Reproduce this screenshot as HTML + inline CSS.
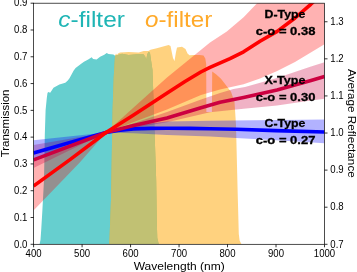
<!DOCTYPE html>
<html><head><meta charset="utf-8">
<style>
html,body{margin:0;padding:0;background:#fff;}
svg{display:block;will-change:transform;}
text{font-family:"Liberation Sans",sans-serif;}
</style></head><body>
<svg width="357" height="272" viewBox="0 0 357 272">
<rect x="0" y="0" width="357" height="272" fill="#ffffff"/>
<defs><clipPath id="ax"><rect x="33.6" y="3.2" width="290.9" height="241.10000000000002"/></clipPath>
<clipPath id="oc"><path d="M109.3,244.3 L111,200 L112.6,110 L113.7,78 L115,56 L116,53.5 L117,55 L118,53.5 L120,52.6 L128.6,52 L138.7,52.6 L143.7,51 L148.4,51 L150.5,49.7 L156.8,48.2 L168.6,45.1 L170.5,46 L173,58 L174.5,61 L176,52 L177,47.6 L182,46.8 L185.5,49 L187.5,53.5 L189.5,55.2 L193.8,55 L199.6,54.9 L203.5,55.6 L205.3,58.5 L206.2,64 L206.4,112 L211.9,112 L212.2,71.6 L216,74.2 L221,78.8 L231,91.8 L234.5,101.8 L236,125 L237.6,190 L238.8,234 L239.6,240.5 L241.5,244.3 Z"/></clipPath></defs>
<g clip-path="url(#ax)">
<path fill="#66cfcf" d="M33.5,244.3 L39.6,243.9 L40.5,240 L41.2,230 L42.4,210 L44,180 L44.8,135 L45.6,110 L46.8,98 L47.5,93 L48.2,92 L50.2,92.8 L53.5,87.7 L59.4,84.4 L65.3,82.7 L67.8,80.4 L69.5,78.2 L73.7,70.4 L75.6,68 L81.2,63.8 L84,61.7 L88.2,59.6 L91.7,57.2 L93.1,58.9 L96.6,59.6 L100.1,56.8 L104.3,54.7 L106.7,52.9 L108.5,54 L113.4,54.4 L115.1,55.7 L122,53.8 L128.6,55 L137,54.3 L143.5,54.3 L145.2,56.5 L146.2,59.8 L147.3,54 L148.8,51.8 L150,53 L151,60 L152.5,70 L156.2,180 L156.9,225 L157.3,238 L158.8,244.3 Z"/>
<path fill="#ffa500" fill-opacity="0.5" d="M109.3,244.3 L111,200 L112.6,110 L113.7,78 L115,56 L116,53.5 L117,55 L118,53.5 L120,52.6 L128.6,52 L138.7,52.6 L143.7,51 L148.4,51 L150.5,49.7 L156.8,48.2 L168.6,45.1 L170.5,46 L173,58 L174.5,61 L176,52 L177,47.6 L182,46.8 L185.5,49 L187.5,53.5 L189.5,55.2 L193.8,55 L199.6,54.9 L203.5,55.6 L205.3,58.5 L206.2,64 L206.4,112 L211.9,112 L212.2,71.6 L216,74.2 L221,78.8 L231,91.8 L234.5,101.8 L236,125 L237.6,190 L238.8,234 L239.6,240.5 L241.5,244.3 Z"/>
<path fill="#c1c173" clip-path="url(#oc)" d="M33.5,244.3 L39.6,243.9 L40.5,240 L41.2,230 L42.4,210 L44,180 L44.8,135 L45.6,110 L46.8,98 L47.5,93 L48.2,92 L50.2,92.8 L53.5,87.7 L59.4,84.4 L65.3,82.7 L67.8,80.4 L69.5,78.2 L73.7,70.4 L75.6,68 L81.2,63.8 L84,61.7 L88.2,59.6 L91.7,57.2 L93.1,58.9 L96.6,59.6 L100.1,56.8 L104.3,54.7 L106.7,52.9 L108.5,54 L113.4,54.4 L115.1,55.7 L122,53.8 L128.6,55 L137,54.3 L143.5,54.3 L145.2,56.5 L146.2,59.8 L147.3,54 L148.8,51.8 L150,53 L151,60 L152.5,70 L156.2,180 L156.9,225 L157.3,238 L158.8,244.3 Z"/>
<path fill="#ff0000" fill-opacity="0.3" d="M33.5,161 L106,132.5 L133.6,107.6 L167,77.4 L200.8,50 L210,42.6 L226.8,31.6 L243.6,17.3 L257.3,3 L324.5,3 L324.5,44.2 L310.8,52.5 L295,62 L277.2,71 L260,78.5 L243.6,84.3 L220,89.5 L201,95 L167,109.5 L106,132.5 L80,162.3 L33.5,210.5 Z"/>
<path fill="#cc0040" fill-opacity="0.3" d="M33.5,145 L106,132.5 L167,112 L201,99.5 L220,93 L233.5,89 L245,87 L277,78 L311,66.5 L324.5,62.3 L324.5,98.7 L311,100.4 L277,105.5 L243.6,108.8 L210,112.2 L167,122.3 L106,132.5 L33.5,168 Z"/>
<path fill="#0000ff" fill-opacity="0.3" d="M33.5,140.3 L106,132.5 L133.6,125.6 L167,121.5 L210,120.8 L324.5,119.5 L324.5,143.2 L276,140.2 L236,138 L210,136.5 L167,135 L133.6,133.2 L106,132.5 L33.5,161.5 Z"/>
<path fill="none" stroke="#0000ff" stroke-width="3.6" stroke-linejoin="round" d="M33.5,152.9 L70,142.5 L106,132.5 L118,130.4 L133.6,128.9 L150,128.4 L167,128.2 L190,128.4 L210,128.8 L236,129.3 L276,130.6 L324.5,132"/>
<path fill="none" stroke="#cc0040" stroke-width="3.6" stroke-linejoin="round" d="M33.5,159.9 L106,132.5 L133.6,125.6 L167,118 L201,107.8 L220,102.3 L243.6,97.5 L277,90 L311,80.5 L324.5,76.6"/>
<path fill="none" stroke="#ff0000" stroke-width="3.6" stroke-linejoin="round" d="M33.5,186 L70,159.6 L106,132.5 L133.6,115 L167.2,93.1 L185,81.5 L200.8,72 L210,67.4 L230,58.6 L243.6,51.8 L260,41.2 L277.2,31.4 L295,18 L310.8,4.3 L317,-1.5"/>
</g>
<rect x="33.6" y="3.2" width="290.9" height="241.10000000000002" fill="none" stroke="#000" stroke-width="0.7"/>
<path stroke="#000" stroke-width="0.8" fill="none" d="M30.6,244.30H33.6 M30.6,217.51H33.6 M30.6,190.72H33.6 M30.6,163.93H33.6 M30.6,137.14H33.6 M30.6,110.36H33.6 M30.6,83.57H33.6 M30.6,56.78H33.6 M30.6,29.99H33.6 M30.6,3.20H33.6 M33.60,244.3V247.3 M82.08,244.3V247.3 M130.57,244.3V247.3 M179.05,244.3V247.3 M227.53,244.3V247.3 M276.02,244.3V247.3 M324.50,244.3V247.3 M324.5,244.30H327.5 M324.5,207.21H327.5 M324.5,170.12H327.5 M324.5,133.02H327.5 M324.5,95.93H327.5 M324.5,58.84H327.5 M324.5,21.75H327.5"/>
<g font-size="10" fill="#000" lengthAdjust="spacingAndGlyphs">
<g text-anchor="end"><text x="27.4" y="247.55" textLength="13.34" lengthAdjust="spacingAndGlyphs">0.0</text><text x="27.4" y="220.76" textLength="13.34" lengthAdjust="spacingAndGlyphs">0.1</text><text x="27.4" y="193.97" textLength="13.34" lengthAdjust="spacingAndGlyphs">0.2</text><text x="27.4" y="167.18" textLength="13.34" lengthAdjust="spacingAndGlyphs">0.3</text><text x="27.4" y="140.39" textLength="13.34" lengthAdjust="spacingAndGlyphs">0.4</text><text x="27.4" y="113.61" textLength="13.34" lengthAdjust="spacingAndGlyphs">0.5</text><text x="27.4" y="86.82" textLength="13.34" lengthAdjust="spacingAndGlyphs">0.6</text><text x="27.4" y="60.03" textLength="13.34" lengthAdjust="spacingAndGlyphs">0.7</text><text x="27.4" y="33.24" textLength="13.34" lengthAdjust="spacingAndGlyphs">0.8</text><text x="27.4" y="6.45" textLength="13.34" lengthAdjust="spacingAndGlyphs">0.9</text></g>
<g text-anchor="middle"><text x="33.60" y="257.3" textLength="16.0" lengthAdjust="spacingAndGlyphs">400</text><text x="82.08" y="257.3" textLength="16.0" lengthAdjust="spacingAndGlyphs">500</text><text x="130.57" y="257.3" textLength="16.0" lengthAdjust="spacingAndGlyphs">600</text><text x="179.05" y="257.3" textLength="16.0" lengthAdjust="spacingAndGlyphs">700</text><text x="227.53" y="257.3" textLength="16.0" lengthAdjust="spacingAndGlyphs">800</text><text x="276.02" y="257.3" textLength="16.0" lengthAdjust="spacingAndGlyphs">900</text><text x="324.50" y="257.3" textLength="21.35" lengthAdjust="spacingAndGlyphs">1000</text></g>
<g text-anchor="start"><text x="330.3" y="247.55" textLength="13.34" lengthAdjust="spacingAndGlyphs">0.7</text><text x="330.3" y="210.46" textLength="13.34" lengthAdjust="spacingAndGlyphs">0.8</text><text x="330.3" y="173.37" textLength="13.34" lengthAdjust="spacingAndGlyphs">0.9</text><text x="330.3" y="136.27" textLength="13.34" lengthAdjust="spacingAndGlyphs">1.0</text><text x="330.3" y="99.18" textLength="13.34" lengthAdjust="spacingAndGlyphs">1.1</text><text x="330.3" y="62.09" textLength="13.34" lengthAdjust="spacingAndGlyphs">1.2</text><text x="330.3" y="25.00" textLength="13.34" lengthAdjust="spacingAndGlyphs">1.3</text></g>
</g>
<text x="133.7" y="269.6" font-size="10.6" textLength="91" lengthAdjust="spacingAndGlyphs">Wavelength (nm)</text>
<text transform="translate(9.2,157.3) rotate(-90)" font-size="10.6" textLength="67.8" lengthAdjust="spacingAndGlyphs">Transmission</text>
<text transform="translate(348,69) rotate(90)" font-size="10.6" textLength="108.8" lengthAdjust="spacingAndGlyphs">Average Reflectance</text>
<text x="58.3" y="27.2" font-size="21.3" fill="#1fb5b5" textLength="66.6" lengthAdjust="spacingAndGlyphs"><tspan font-style="italic">c</tspan>-filter</text>
<text x="145.1" y="27.2" font-size="21.3" fill="#ffaa2a" textLength="67.2" lengthAdjust="spacingAndGlyphs"><tspan font-style="italic">o</tspan>-filter</text>
<g font-size="10.9" font-weight="bold" stroke="#000" stroke-width="0.3">
<text x="264.6" y="17.9" textLength="40.8" lengthAdjust="spacingAndGlyphs">D-Type</text><text x="255.8" y="34.7" textLength="59.6" lengthAdjust="spacingAndGlyphs">c-o = 0.38</text>
<text x="264.6" y="84.1" textLength="40.8" lengthAdjust="spacingAndGlyphs">X-Type</text><text x="255.8" y="100.7" textLength="59.6" lengthAdjust="spacingAndGlyphs">c-o = 0.30</text>
<text x="264.6" y="127" textLength="40.8" lengthAdjust="spacingAndGlyphs">C-Type</text><text x="255.8" y="143.9" textLength="59.6" lengthAdjust="spacingAndGlyphs">c-o = 0.27</text>
</g>
</svg>
</body></html>
